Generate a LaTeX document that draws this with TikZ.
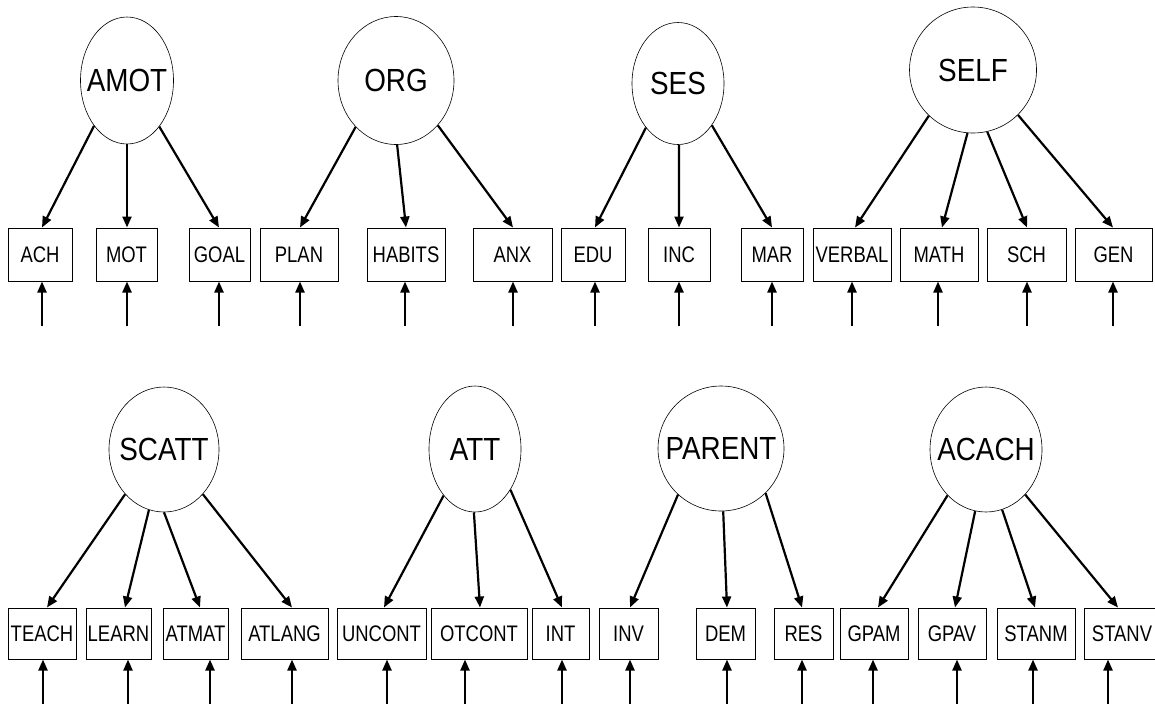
\documentclass[tikz,border=0pt]{standalone}
\usepackage{fontspec}
\newfontfamily\latfont[FakeStretch=0.87]{Liberation Sans}
\newfontfamily\obsfont[FakeStretch=0.82]{Liberation Sans}
\usetikzlibrary{shapes.geometric,arrows.meta}
\tikzset{
  lat/.style={draw, line width=0.6pt, ellipse, inner sep=0pt, font=\latfont\fontsize{32}{32}\selectfont},
  obs/.style={draw, line width=1pt, rectangle, inner sep=0pt, font=\obsfont\fontsize{22.5}{22.5}\selectfont},
  obstop/.style={obs, minimum height=53pt},
  obsbot/.style={obs, minimum height=51pt},
  load/.style={line width=2.2pt, -{Triangle[length=11pt,width=9pt]}},
  err/.style={line width=2.2pt, -{Triangle[length=11pt,width=9pt]}}
}
\newcommand{\zw}[1]{\makebox[0pt]{#1}}
\newcommand{\errarrow}[2]{\draw[err] ([xshift=#2pt,yshift=-44pt]#1.south) -- ([xshift=#2pt]#1.south);}
\newcommand{\loadarrow}[4]{\draw[load] (#1.#2) -- ([xshift=#4pt]#3.north);}
\begin{document}
\begin{tikzpicture}[x=1pt,y=-1pt]
\useasboundingbox (0,0) rectangle (1155,707);
% ---------- latent variables ----------
\node[lat, minimum width=93pt, minimum height=127pt] (amot) at (127,80.5) {\zw{AMOT}};
\node[lat, minimum width=116pt, minimum height=128pt] (org) at (396,80.5) {\zw{ORG}};
\node[lat, minimum width=92pt, minimum height=122pt] (ses) at (678,83.5) {\zw{SES}};
\node[lat, minimum width=127pt, minimum height=126pt] (self) at (973,70) {\zw{SELF}};
\node[lat, minimum width=110pt, minimum height=125pt] (scatt) at (164,449.5) {\zw{SCATT}};
\node[lat, minimum width=92pt, minimum height=126pt] (att) at (475,449) {\zw{ATT}};
\node[lat, minimum width=126pt, minimum height=125pt] (parent) at (721,448.5) {\zw{PARENT}};
\node[lat, minimum width=112pt, minimum height=125pt] (acach) at (986,449.5) {\zw{ACACH}};
% ---------- observed variables, top row ----------
\node[obstop, minimum width=64pt] (ach) at (40,254.5) {\zw{ACH}};
\node[obstop, minimum width=61pt] (mot) at (126.5,254.5) {\zw{MOT}};
\node[obstop, minimum width=61pt] (goal) at (219.5,254.5) {\zw{GOAL}};
\node[obstop, minimum width=78pt] (plan) at (299,254.5) {\zw{PLAN}};
\node[obstop, minimum width=78pt] (habits) at (406,254.5) {\zw{HABITS}};
\node[obstop, minimum width=79pt] (anx) at (512.5,254.5) {\zw{ANX}};
\node[obstop, minimum width=64pt] (edu) at (593,254.5) {\zw{EDU}};
\node[obstop, minimum width=62pt] (inc) at (679,254.5) {\zw{INC}};
\node[obstop, minimum width=62pt] (mar) at (772,254.5) {\zw{MAR}};
\node[obstop, minimum width=78pt] (verbal) at (852,254.5) {\zw{VERBAL}};
\node[obstop, minimum width=78pt] (math) at (939,254.5) {\zw{MATH}};
\node[obstop, minimum width=79pt] (sch) at (1026.5,254.5) {\zw{SCH}};
\node[obstop, minimum width=77pt] (gen) at (1113.5,254.5) {\zw{GEN}};
% ---------- observed variables, bottom row ----------
\node[obsbot, minimum width=68pt] (teach) at (42,633.5) {\zw{TEACH}};
\node[obsbot, minimum width=65pt] (learn) at (118.5,633.5) {\zw{LEARN}};
\node[obsbot, minimum width=65pt] (atmat) at (195.5,633.5) {\zw{ATMAT}};
\node[obsbot, minimum width=87pt] (atlang) at (284.5,633.5) {\zw{ATLANG}};
\node[obsbot, minimum width=89pt] (uncont) at (381.5,633.5) {\zw{UNCONT}};
\node[obsbot, minimum width=96pt] (otcont) at (479,633.5) {\zw{OTCONT}};
\node[obsbot, minimum width=57pt] (int) at (560.5,633.5) {\zw{INT}};
\node[obsbot, minimum width=59pt] (inv) at (628.5,633.5) {\zw{INV}};
\node[obsbot, minimum width=59pt] (dem) at (725.5,633.5) {\zw{DEM}};
\node[obsbot, minimum width=59pt] (res) at (803.5,633.5) {\zw{RES}};
\node[obsbot, minimum width=68pt] (gpam) at (874,633.5) {\zw{GPAM}};
\node[obsbot, minimum width=68pt] (gpav) at (952,633.5) {\zw{GPAV}};
\node[obsbot, minimum width=78pt] (stanm) at (1036,633.5) {\zw{STANM}};
\node[obsbot, minimum width=76pt] (stanv) at (1122,633.5) {\zw{STANV}};
% ---------- loadings ----------
\loadarrow{amot}{234}{ach}{2}
\loadarrow{amot}{270}{mot}{0.5}
\loadarrow{amot}{305}{goal}{-0.5}
\loadarrow{org}{229}{plan}{1}
\loadarrow{org}{271}{habits}{0}
\loadarrow{org}{313}{anx}{0.5}
\loadarrow{ses}{234}{edu}{2}
\loadarrow{ses}{271}{inc}{0}
\loadarrow{ses}{309}{mar}{0}
\loadarrow{self}{226}{verbal}{3}
\loadarrow{self}{265}{math}{3}
\loadarrow{self}{283}{sch}{0.5}
\loadarrow{self}{315}{gen}{-0.5}
\loadarrow{scatt}{229}{teach}{5}
\loadarrow{scatt}{256}{learn}{6.5}
\loadarrow{scatt}{270}{atmat}{4.5}
\loadarrow{scatt}{311}{atlang}{7.5}
\loadarrow{att}{236}{uncont}{2.5}
\loadarrow{att}{269}{otcont}{1}
\loadarrow{att}{311}{int}{1.5}
\loadarrow{parent}{227}{inv}{1.5}
\loadarrow{parent}{272}{dem}{1.5}
\loadarrow{parent}{315}{res}{-1.5}
\loadarrow{acach}{230}{gpam}{4}
\loadarrow{acach}{260}{gpav}{3}
\loadarrow{acach}{285}{stanm}{-1}
\loadarrow{acach}{311}{stanv}{-4}
% ---------- error arrows ----------
\errarrow{ach}{2}
\errarrow{mot}{0.5}
\errarrow{goal}{-0.5}
\errarrow{plan}{1}
\errarrow{habits}{-1}
\errarrow{anx}{0.5}
\errarrow{edu}{2}
\errarrow{inc}{0}
\errarrow{mar}{0}
\errarrow{verbal}{0}
\errarrow{math}{-1}
\errarrow{sch}{0.5}
\errarrow{gen}{-0.5}
\errarrow{teach}{1}
\errarrow{learn}{9.5}
\errarrow{atmat}{14.5}
\errarrow{atlang}{7.5}
\errarrow{uncont}{5.5}
\errarrow{otcont}{-14}
\errarrow{int}{1.5}
\errarrow{inv}{1.5}
\errarrow{dem}{1.5}
\errarrow{res}{-1.5}
\errarrow{gpam}{-1}
\errarrow{gpav}{5}
\errarrow{stanm}{-3}
\errarrow{stanv}{-14}
\end{tikzpicture}
\end{document}
